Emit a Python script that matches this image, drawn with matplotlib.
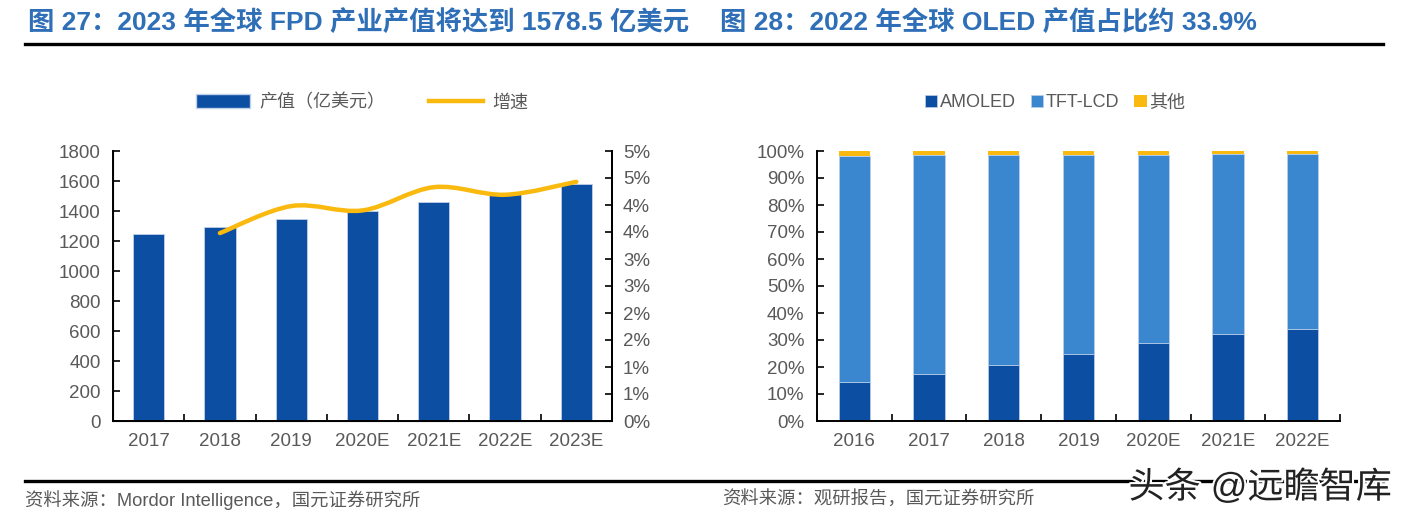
import matplotlib
matplotlib.use("Agg")
import matplotlib.pyplot as plt
import matplotlib.patheffects as pe
from matplotlib.path import Path
from matplotlib.patches import PathPatch, Patch
from matplotlib.lines import Line2D
import numpy as np

plt.rcParams['font.family'] = ['Liberation Sans', 'Noto Sans CJK SC', 'DejaVu Sans']

# 图27 数据
years_l = ["2017", "2018", "2019", "2020E", "2021E", "2022E", "2023E"]
output_value = [1249, 1293, 1345, 1398, 1458, 1512, 1578.5]
growth = [None, 0.0348, 0.0398, 0.0390, 0.0433, 0.0419, 0.0443]
right_ticklabels = ["0%", "1%", "1%", "2%", "2%", "3%", "3%", "4%", "4%", "5%", "5%"]

# 图28 数据
years_r = ["2016", "2017", "2018", "2019", "2020E", "2021E", "2022E"]
amoled = [14.4, 17.3, 20.9, 24.8, 29.0, 32.2, 33.9]
tft_lcd = [83.8, 81.2, 77.6, 73.7, 69.5, 66.7, 64.9]
others = [1.8, 1.5, 1.5, 1.5, 1.5, 1.1, 1.2]

dark_blue = "#0B4EA2"
light_blue = "#3A87CF"
yellow = "#F9B90E"
title_blue = "#2F6FB7"
grey = "#595959"

fig = plt.figure(figsize=(14.06, 5.18), dpi=100)

# 标题
fig.text(28 / 1406, 1 - 22 / 518, "图 27：2023 年全球 FPD 产业产值将达到 1578.5 亿美元",
         fontsize=19, fontweight="bold", color=title_blue, va="center")
fig.text(720 / 1406, 1 - 22 / 518, "图 28：2022 年全球 OLED 产值占比约 33.9%",
         fontsize=19, fontweight="bold", color=title_blue, va="center")
fig.add_artist(Line2D([25 / 1406, 1383 / 1406], [1 - 44 / 518] * 2, color="black", lw=2.4))
fig.add_artist(Line2D([25 / 1406, 1383 / 1406], [1 - 481 / 518] * 2, color="black", lw=2.4))

fig.text(25 / 1406, 1 - 500 / 518, "资料来源：Mordor Intelligence，国元证券研究所",
         fontsize=13.2, color=grey, va="center")
fig.text(722 / 1406, 1 - 500 / 518, "资料来源：观研报告，国元证券研究所",
         fontsize=13.2, color=grey, va="center")
fig.text(1392 / 1406, 1 - 488 / 518, "头条 @远瞻智库", fontsize=26, color="#222222",
         ha="right", va="center",
         path_effects=[pe.withStroke(linewidth=3, foreground="white")])


def style_axis(ax, n):
    ax.set_xlim(-0.5, n - 0.5)
    ax.set_xticks(range(n))
    ax.set_xticks(np.arange(-0.5, n, 1.0), minor=True)
    ax.tick_params(axis="x", which="major", length=0, pad=9, labelsize=13.5, labelcolor=grey)
    ax.tick_params(axis="x", which="minor", direction="in", length=5, width=1.2)
    ax.tick_params(axis="y", direction="in", length=5, width=1.2, labelsize=13.5,
                   labelcolor=grey, pad=9)
    ax.spines["top"].set_visible(False)
    for s in ["left", "bottom", "right"]:
        ax.spines[s].set_linewidth(1.4)


# 左图
ax1 = fig.add_axes([113 / 1406, 1 - 421 / 518, 499 / 1406, 270 / 518])
x = np.arange(len(years_l))
ax1.bar(x, output_value, width=0.44, color=dark_blue, edgecolor="#BFD0E8", linewidth=0.6, zorder=2)
ax1.set_ylim(0, 1800)
ax1.set_yticks(range(0, 1801, 200))
ax1.set_xticklabels(years_l)
style_axis(ax1, len(years_l))

ax2 = ax1.twinx()
ax2.set_ylim(0, 0.05)
ax2.set_yticks(np.linspace(0, 0.05, 11))
ax2.set_yticklabels(right_ticklabels)
ax2.tick_params(axis="y", direction="in", length=5, width=1.2, labelsize=13.5,
                labelcolor=grey, pad=8)
ax2.spines["top"].set_visible(False)
ax2.spines["right"].set_linewidth(1.4)

# 平滑曲线 (Catmull-Rom -> Bezier)
pts = [(i, g) for i, g in enumerate(growth) if g is not None]
pts = np.array(pts)
verts = [tuple(pts[0])]
codes = [Path.MOVETO]
for i in range(len(pts) - 1):
    p0 = pts[max(i - 1, 0)]
    p1 = pts[i]
    p2 = pts[i + 1]
    p3 = pts[min(i + 2, len(pts) - 1)]
    c1 = p1 + (p2 - p0) / 6
    c2 = p2 - (p3 - p1) / 6
    verts += [tuple(c1), tuple(c2), tuple(p2)]
    codes += [Path.CURVE4] * 3
ax2.add_patch(PathPatch(Path(verts, codes), facecolor="none", edgecolor=yellow,
                        lw=3.2, capstyle="round", zorder=3))

handles = [Patch(facecolor=dark_blue, edgecolor="#BFD0E8"),
           Line2D([], [], color=yellow, lw=3.2)]
fig.legend(handles, ["产值（亿美元）", "增速"], loc="center",
           bbox_to_anchor=(362 / 1406, 1 - 103 / 518), ncol=2, frameon=False,
           fontsize=13, handlelength=3.0, handleheight=0.8, columnspacing=2.4,
           handletextpad=0.5, labelcolor=grey)

# 右图
ax3 = fig.add_axes([817 / 1406, 1 - 421 / 518, 523 / 1406, 270 / 518])
xr = np.arange(len(years_r))
bottom2 = np.array(amoled)
bottom3 = bottom2 + np.array(tft_lcd)
ax3.bar(xr, amoled, width=0.42, color=dark_blue, edgecolor="#BFD0E8", linewidth=0.5, label="AMOLED")
ax3.bar(xr, tft_lcd, width=0.42, bottom=bottom2, color=light_blue, edgecolor="#BFD0E8",
        linewidth=0.5, label="TFT-LCD")
ax3.bar(xr, others, width=0.42, bottom=bottom3, color=yellow, linewidth=0, label="其他")
ax3.set_ylim(0, 100)
ax3.set_yticks(range(0, 101, 10))
ax3.set_yticklabels([f"{v}%" for v in range(0, 101, 10)])
ax3.set_xticklabels(years_r)
style_axis(ax3, len(years_r))
ax3.spines["right"].set_visible(False)

fig.legend(*ax3.get_legend_handles_labels(), loc="center",
           bbox_to_anchor=(1055 / 1406, 1 - 103 / 518), ncol=3, frameon=False,
           fontsize=13, handlelength=0.7, handleheight=0.7, columnspacing=0.8,
           handletextpad=0.15, labelcolor=grey)

fig.savefig("out.png", dpi=100)
